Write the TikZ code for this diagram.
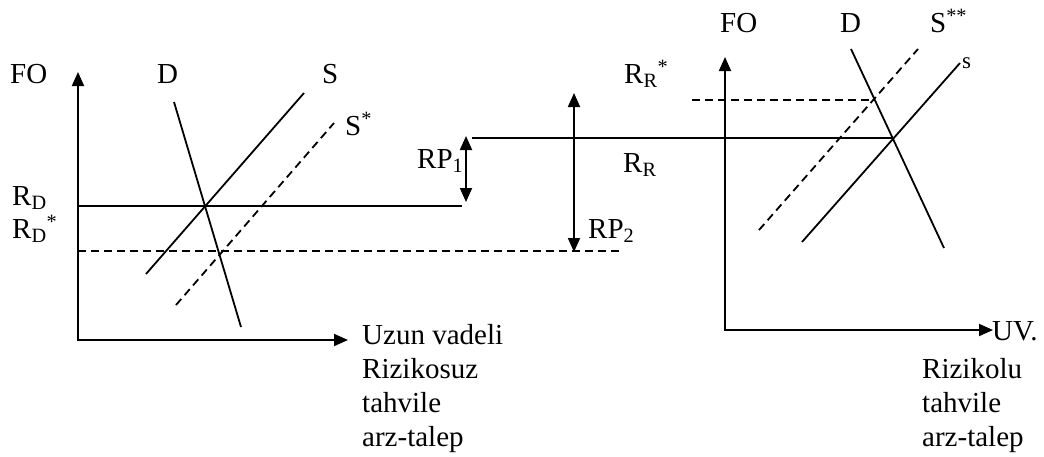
\documentclass[tikz,border=0pt]{standalone}
\usepackage{fontspec}
\setmainfont{Liberation Serif}
\usetikzlibrary{arrows.meta}
\tikzset{
  curve/.style={line width=1.8pt},
  dcurve/.style={curve,dash pattern=on 8pt off 5pt},
  axes/.style={curve,{Triangle[length=14pt,width=12pt]}-{Triangle[length=14pt,width=12pt]}},
  gaparrow/.style={curve,{Triangle[length=14pt,width=12pt]}-{Triangle[length=14pt,width=12pt]}},
  lab/.style={inner sep=0pt,anchor=base west,font=\fontsize{29}{34}\selectfont},
  smalllab/.style={lab,font=\fontsize{23}{26}\selectfont},
  blocklab/.style={lab,anchor=north west,align=left}
}
\begin{document}
\begin{tikzpicture}[x=1pt,y=-1pt]
  \useasboundingbox (0,0) rectangle (1044,456);

  % left market: riskless bonds
  \coordinate (lytop) at (78,72);
  \coordinate (lo) at (78,340);
  \coordinate (lxend) at (348,340);
  \draw[axes] (lytop) -- (lo) -- (lxend);
  \coordinate (dtop) at (174,102);
  \coordinate (dbot) at (241,327);
  \draw[curve] (dtop) -- (dbot);
  \coordinate (sbot) at (146,274);
  \coordinate (stop) at (304,93);
  \draw[curve] (sbot) -- (stop);
  \coordinate (sstbot) at (176,305);
  \coordinate (ssttop) at (334,123);
  \draw[dcurve] (sstbot) -- (ssttop);
  \coordinate (rd) at (78,206);
  \coordinate (rdend) at (462,206);
  \draw[curve] (rd) -- (rdend);
  \coordinate (rdst) at (78,251);
  \coordinate (rdstend) at (620,251);
  \draw[dcurve] (rdst) -- (rdstend);

  % risk premia
  \coordinate (rponetop) at (466,136);
  \coordinate (rponebot) at (466,202);
  \draw[gaparrow] (rponetop) -- (rponebot);
  \coordinate (rptwotop) at (574,93);
  \coordinate (rptwobot) at (574,252);
  \draw[gaparrow] (rptwotop) -- (rptwobot);
  \coordinate (rr) at (472,138);
  \coordinate (rrend) at (893,138);
  \draw[curve] (rr) -- (rrend);

  % right market: risky bonds
  \coordinate (rytop) at (725,57);
  \coordinate (ro) at (725,330);
  \coordinate (rxend) at (993,330);
  \draw[axes] (rytop) -- (ro) -- (rxend);
  \coordinate (rrst) at (692,100);
  \coordinate (rrstend) at (875,100);
  \draw[dcurve] (rrst) -- (rrstend);
  \coordinate (drtop) at (851,49);
  \coordinate (drbot) at (944,248);
  \draw[curve] (drtop) -- (drbot);
  \coordinate (srbot) at (802,242);
  \coordinate (srtop) at (960,63);
  \draw[curve] (srbot) -- (srtop);
  \coordinate (ssrbot) at (759,230);
  \coordinate (ssrtop) at (918,49);
  \draw[dcurve] (ssrbot) -- (ssrtop);

  % labels
  \node[lab] (folab) at (10,83) {FO};
  \node[lab] (dlab) at (157,83) {D};
  \node[lab] (slab) at (322,83) {S};
  \node[lab] (sstlab) at (345,135) {S\textsuperscript{*}};
  \node[lab] (rdlab) at (12,205) {R\textsubscript{D}};
  \node[lab] (rdstlab) at (12,238) {R\textsubscript{D}\textsuperscript{*}};
  \node[lab] (rponelab) at (417,168) {RP\textsubscript{1}};
  \node[lab] (rptwolab) at (588,238) {RP\textsubscript{2}};
  \node[lab] (rrlab) at (623,172) {R\textsubscript{R}};
  \node[lab] (rrstlab) at (624,83) {R\textsubscript{R}\textsuperscript{*}};
  \node[blocklab] (lefttext) at (362,324) {Uzun vadeli\\Rizikosuz\\tahvile\\arz-talep};
  \node[lab] (forlab) at (720,32) {FO};
  \node[lab] (drlab) at (840,32) {D};
  \node[lab] (ssrlab) at (930,32) {S\textsuperscript{**}};
  \node[smalllab] (srlab) at (962,68) {s};
  \node[lab] (uvlab) at (992,340) {UV.};
  \node[blocklab] (righttext) at (922,358) {Rizikolu\\tahvile\\arz-talep};
\end{tikzpicture}
\end{document}
